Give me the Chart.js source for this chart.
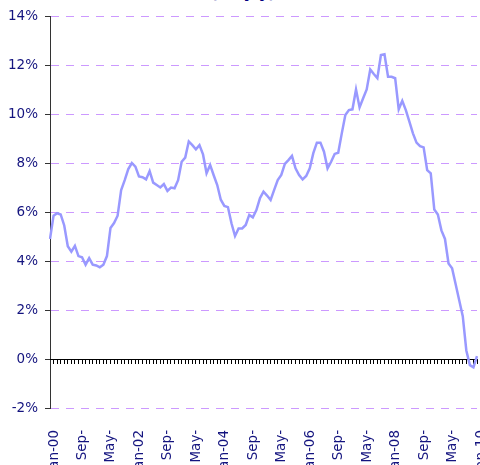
<!DOCTYPE html>
<html>
<head>
<meta charset="utf-8">
<script src="https://cdn.jsdelivr.net/npm/chart.js@4/dist/chart.umd.min.js"></script>
<style>
  body { margin: 0; background: #fff; }
  #wrap { position: relative; width: 480px; height: 465px; overflow: hidden; }
  #title { position: absolute; left: 0; width: 486px; top: -16px; text-align: center;
           font: bold 15px "DejaVu Sans", Verdana, sans-serif; color: #000080; }
  #chart { position: absolute; left: 0; top: 0; }
</style>
</head>
<body>
<div id="wrap">
  <div id="title">(%, y/y)</div>
  <canvas id="chart" width="490" height="500"></canvas>
</div>
<script>
// monthly, Jan-00 .. Jan-10
const monthNames = ['Jan','Feb','Mar','Apr','May','Jun','Jul','Aug','Sep','Oct','Nov','Dec'];
const months = [];
for (let y = 0; y <= 10; y++) {
  monthNames.forEach((m, k) => { if (y < 10 || k === 0) months.push(m + '-' + String(y).padStart(2, '0')); });
}

const values = [
  4.9, 5.85, 5.95, 5.9, 5.45, 4.6, 4.38, 4.62, 4.2, 4.15, 3.85, 4.12,
  3.85, 3.82, 3.74, 3.85, 4.2, 5.35, 5.55, 5.85, 6.9, 7.3, 7.75, 8.0,
  7.85, 7.45, 7.42, 7.33, 7.67, 7.2, 7.1, 7.0, 7.14, 6.86, 7.0, 6.97,
  7.3, 8.05, 8.22, 8.88, 8.73, 8.56, 8.73, 8.35, 7.58, 7.92, 7.5, 7.1,
  6.5, 6.25, 6.2, 5.54, 5.02, 5.33, 5.33, 5.47, 5.88, 5.78, 6.08, 6.56,
  6.83, 6.67, 6.49, 6.9, 7.3, 7.51, 7.96, 8.12, 8.29, 7.78, 7.51, 7.33,
  7.47, 7.78, 8.4, 8.83, 8.83, 8.46, 7.78, 8.05, 8.37, 8.42, 9.21, 9.96,
  10.16, 10.19, 11.0, 10.27, 10.64, 11.0, 11.82, 11.63, 11.46, 12.41, 12.44, 11.52,
  11.52, 11.46, 10.19, 10.54, 10.16, 9.69, 9.21, 8.83, 8.69, 8.64, 7.71, 7.58,
  6.1, 5.9, 5.25, 4.9, 3.9, 3.7, 3.05, 2.4, 1.75, 0.35, -0.25, -0.34,
  0.12
];

// shown every 8 months
const tickLabels = ['Jan-00','Sep-','May-','Jan-02','Sep-','May-','Jan-04','Sep-','May-',
                    'Jan-06','Sep-','May-','Jan-08','Sep-','May-','Jan-10'];
const tickStep = 8;

const navy = '#14147f';
const font = { family: '"DejaVu Sans", Verdana, sans-serif', size: 13.5 };

new Chart(document.getElementById('chart'), {
  type: 'line',
  data: {
    labels: months,
    datasets: [{
      data: values, xAxisID: 'x', yAxisID: 'y',
      borderColor: '#9999ff', borderWidth: 2.5, pointRadius: 0, tension: 0, fill: false
    }]
  },
  options: {
    responsive: false, animation: false,
    layout: { padding: { top: 16, right: 13, left: 0, bottom: 0 } },
    plugins: { legend: { display: false }, tooltip: { enabled: false } },
    scales: {
      y: {
        min: -2, max: 14,
        ticks: { stepSize: 2, color: navy, font: font, padding: 7, callback: v => v + '%' },
        grid: {
          color: ctx => ctx.tick && ctx.tick.value === 0 ? 'rgba(0,0,0,0)' : '#cc99ff',
          tickLength: 5, tickColor: '#333', tickBorderDash: []
        },
        border: { display: true, color: '#333', width: 1, dash: [8, 7] },
        afterFit: s => { s.width = 50; }
      },
      x: {
        type: 'category', position: { y: 0 }, offset: false,
        ticks: { display: false },
        grid: { display: true, drawOnChartArea: false, drawTicks: true, tickLength: 4, tickColor: '#000', tickBorderDash: [] },
        border: { display: true, color: '#000', width: 1 }
      },
      x2: {
        type: 'category', position: 'bottom', offset: false,
        grid: { display: false },
        border: { display: false },
        ticks: {
          autoSkip: false, minRotation: 90, maxRotation: 90, padding: 14, labelOffset: 4,
          color: navy, font: font,
          callback: (v, i) => i % tickStep === 0 ? tickLabels[i / tickStep] : ''
        },
        afterFit: s => { s.height = 500 - 408; s.paddingLeft = 0; s.paddingRight = 0; }
      }
    }
  }
});
</script>
</body>
</html>
